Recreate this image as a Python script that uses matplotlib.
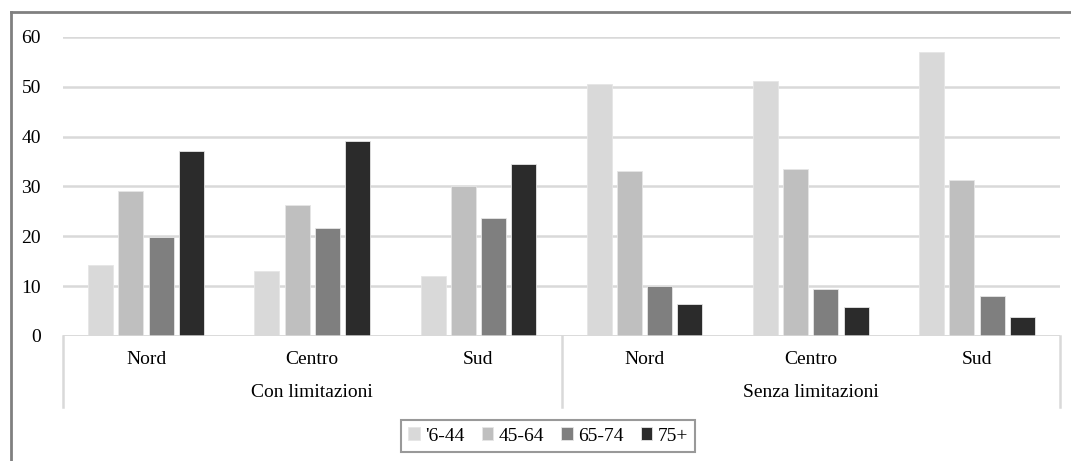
import matplotlib
matplotlib.use("agg")
import numpy as np
import matplotlib.pyplot as plt
from matplotlib.lines import Line2D

plt.rcParams['font.family'] = ['Liberation Serif', 'DejaVu Serif']

groups = ['Con limitazioni', 'Senza limitazioni']
areas = ['Nord', 'Centro', 'Sud']
ages = ["'6-44", '45-64', '65-74', '75+']
colors = ['#d9d9d9', '#bfbfbf', '#7f7f7f', '#2b2b2b']

# rows: Con Nord, Con Centro, Con Sud, Senza Nord, Senza Centro, Senza Sud
age_6_44 = [14.2, 13.0, 12.0, 50.5, 51.1, 57.0]
age_45_64 = [29.0, 26.3, 30.0, 33.1, 33.6, 31.3]
age_65_74 = [19.8, 21.6, 23.7, 10.0, 9.4, 8.0]
age_75 = [37.1, 39.2, 34.5, 6.5, 5.8, 3.9]
series = [age_6_44, age_45_64, age_65_74, age_75]

fig = plt.figure(figsize=(10.71, 4.61), dpi=100)
ax = fig.add_axes([63/1071, 125/461, 997/1071, 299/461])

x = np.arange(6)
step = 0.182
width = 0.15
for i, (vals, c) in enumerate(zip(series, colors)):
    ax.bar(x + (i - 1.5)*step, vals, width, color=c, label=ages[i], zorder=3,
           edgecolor='#e6e6e6', linewidth=0.6)

ax.set_xlim(-0.5, 5.5)
ax.set_ylim(0, 60)
ax.set_yticks(range(0, 61, 10))
ax.set_xticks([])
ax.tick_params(axis='y', length=0, pad=16, labelsize=14)
ax.yaxis.grid(True, color='#d9d9d9', linewidth=1.8, zorder=0)
for s in ax.spines.values():
    s.set_visible(False)
ax.axhline(0, color='#d9d9d9', linewidth=1.8, zorder=4)

trans = ax.get_xaxis_transform()
for j in range(6):
    ax.text(j, -0.077, areas[j % 3], transform=trans, ha='center', va='center', fontsize=14)
for g, name in enumerate(groups):
    ax.text(1 + 3*g, -0.19, name, transform=trans, ha='center', va='center', fontsize=14)
for xs in [-0.5, 2.5, 5.5]:
    ax.add_line(Line2D([xs, xs], [0, -0.237], transform=trans, color='#d9d9d9',
                       linewidth=1.8, clip_on=False))

leg = fig.legend(loc='center', bbox_to_anchor=(548/1071, 1 - 436/461), ncol=4,
                 fontsize=14, frameon=True, fancybox=False, handlelength=0.6,
                 handleheight=0.6, handletextpad=0.25, columnspacing=0.9,
                 borderpad=0.4)
leg.get_frame().set_edgecolor('#808080')
leg.get_frame().set_linewidth(1.5)

# outer frame (top and left only)
fig.add_artist(Line2D([11/1071, 11/1071], [0, 1 - 12/461], transform=fig.transFigure,
                      color='#808080', linewidth=2))
fig.add_artist(Line2D([11/1071, 1], [1 - 12/461, 1 - 12/461], transform=fig.transFigure,
                      color='#808080', linewidth=2))

fig.savefig('out.png', dpi=100)
